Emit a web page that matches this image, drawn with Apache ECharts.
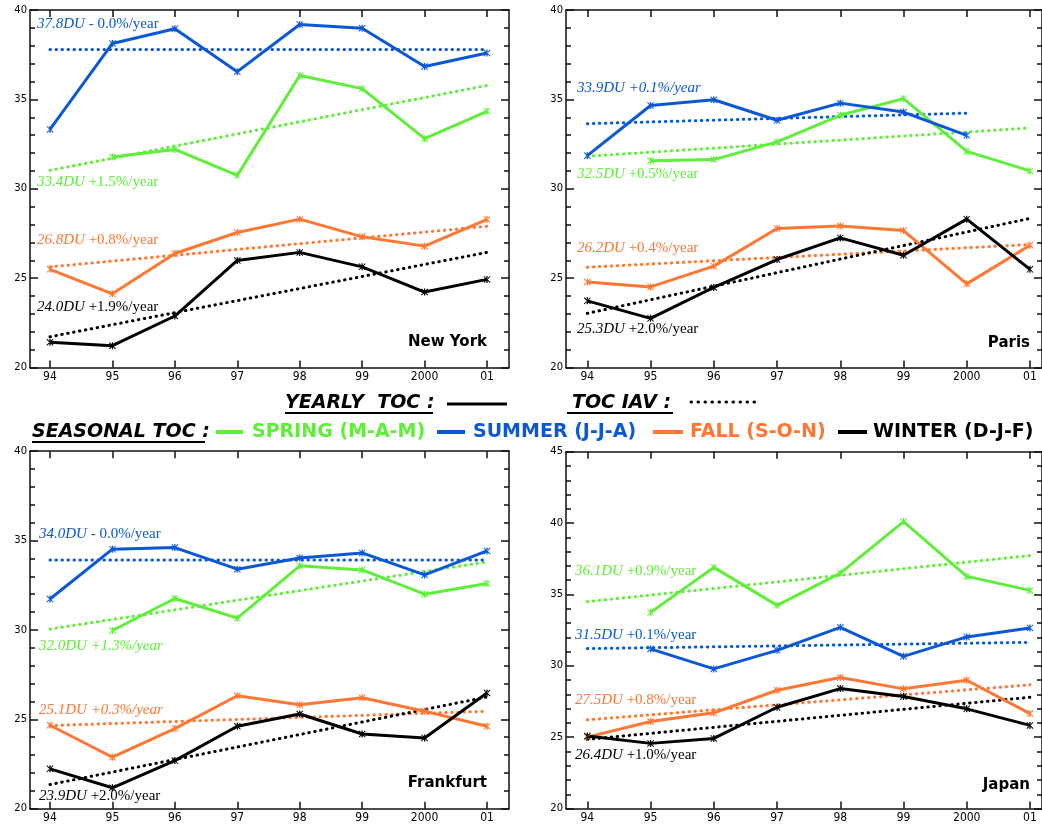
<!DOCTYPE html>
<head>
    <meta charset="utf-8">
    <title>TOC seasonal trends</title>
    <script src="https://cdn.jsdelivr.net/npm/echarts@6/dist/echarts.min.js"></script>
    <style>
        html, body { margin: 0; padding: 0; background: #fff; }
    </style>
</head>
<body>
    <div id="main" style="width:1042px;height:824px"></div>
    <script type="text/javascript">
    // year labels on the x axis
    var years = ['94', '95', '96', '97', '98', '99', '2000', '01'];

    // New York
    var nySpring = [null, 31.78, 32.2, 30.75, 36.34, 35.6, 32.8, 34.33];
    var nySummer = [33.32, 38.13, 38.95, 36.55, 39.19, 38.98, 36.84, 37.59];
    var nyFall   = [25.49, 24.12, 26.38, 27.55, 28.3, 27.31, 26.79, 28.28];
    var nyWinter = [21.41, 21.22, 22.88, 25.99, 26.44, 25.63, 24.22, 24.93];
    var nySpringTrend = [31.03, null, null, null, null, null, null, 35.78];
    var nySummerTrend = [37.79, null, null, null, null, null, null, 37.79];
    var nyFallTrend   = [25.63, null, null, null, null, null, null, 27.9];
    var nyWinterTrend = [21.72, null, null, null, null, null, null, 26.44];

    // Paris
    var parisSpring = [null, 31.57, 31.63, 32.62, 34.11, 35.04, 32.09, 31.0];
    var parisSummer = [31.85, 34.66, 34.98, 33.83, 34.79, 34.29, 32.99, null];
    var parisFall   = [24.78, 24.51, 25.67, 27.78, 27.91, 27.66, 24.68, 26.84];
    var parisWinter = [23.73, 22.75, 24.48, 26.04, 27.25, 26.28, 28.3, 25.49];
    var parisSpringTrend = [31.82, null, null, null, null, null, null, 33.4];
    var parisSummerTrend = [33.64, null, null, null, null, null, 34.23, null];
    var parisFallTrend   = [25.61, null, null, null, null, null, null, 26.88];
    var parisWinterTrend = [23.03, null, null, null, null, null, null, 28.34];

    // Frankfurt
    var frSpring = [null, 29.97, 31.76, 30.66, 33.59, 33.36, 32.0, 32.6];
    var frSummer = [31.73, 34.52, 34.61, 33.4, 34.02, 34.31, 33.08, 34.42];
    var frFall   = [24.67, 22.88, 24.48, 26.32, 25.82, 26.21, 25.45, 24.61];
    var frWinter = [22.23, 21.17, 22.69, 24.61, 25.3, 24.18, 23.96, 26.47];
    var frSpringTrend = [30.05, null, null, null, null, null, null, 33.81];
    var frSummerTrend = [33.92, null, null, null, null, null, null, 33.92];
    var frFallTrend   = [24.65, null, null, null, null, null, null, 25.45];
    var frWinterTrend = [21.35, null, null, null, null, null, null, 26.25];

    // Japan
    var jpSpring = [null, 33.75, 36.9, 34.24, 36.5, 40.11, 36.27, 35.29];
    var jpSummer = [null, 31.19, 29.79, 31.09, 32.7, 30.67, 32.03, 32.66];
    var jpFall   = [25.01, 26.1, 26.71, 28.29, 29.18, 28.39, 28.99, 26.66];
    var jpWinter = [25.08, 24.57, 24.92, 27.1, 28.41, 27.85, 26.99, 25.83];
    var jpSpringTrend = [34.5, null, null, null, null, null, null, 37.73];
    var jpSummerTrend = [31.21, null, null, null, null, null, null, 31.65];
    var jpFallTrend   = [26.22, null, null, null, null, null, null, 28.67];
    var jpWinterTrend = [24.85, null, null, null, null, null, null, 27.8];

    var GREEN = '#5fee3a', BLUE = '#0a58d6', ORANGE = '#ff7733', BLACK = '#000000';
    var STAR = 'path://M-1,-0.8L-0.8,-1L1,0.8L0.8,1Z M1,-0.8L0.8,-1L-1,0.8L-0.8,1Z M-0.18,-1L0.18,-1L0.18,1L-0.18,1Z';

    var panels = [
        { name: 'New York', grid: { left: 30, top: 10, width: 479, height: 357.5 }, xmin: -0.32, xmax: 7.352, ymax: 40,
          lines: [nySpring, nySummer, nyFall, nyWinter],
          trends: [nySpringTrend, nySummerTrend, nyFallTrend, nyWinterTrend] },
        { name: 'Paris', grid: { left: 566, top: 10, width: 476, height: 357.5 }, xmin: -0.337, xmax: 7.19, ymax: 40,
          lines: [parisSpring, parisSummer, parisFall, parisWinter],
          trends: [parisSpringTrend, parisSummerTrend, parisFallTrend, parisWinterTrend] },
        { name: 'Frankfurt', grid: { left: 30, top: 451.2, width: 479, height: 357.5 }, xmin: -0.32, xmax: 7.352, ymax: 40,
          lines: [frSpring, frSummer, frFall, frWinter],
          trends: [frSpringTrend, frSummerTrend, frFallTrend, frWinterTrend] },
        { name: 'Japan', grid: { left: 566, top: 451.8, width: 476, height: 356.8 }, xmin: -0.337, xmax: 7.19, ymax: 45,
          lines: [jpSpring, jpSummer, jpFall, jpWinter],
          trends: [jpSpringTrend, jpSummerTrend, jpFallTrend, jpWinterTrend] }
    ];
    var colors = [GREEN, BLUE, ORANGE, BLACK];
    var tickIdx = [0, 1, 2, 3, 4, 5, 6, 7];
    var frame = { color: '#111', width: 1.5 };

    var grids = [], xAxes = [], yAxes = [], series = [];
    panels.forEach(function (p, g) {
        grids.push(p.grid);
        ['bottom', 'top'].forEach(function (pos) {
            xAxes.push({
                gridIndex: g, type: 'value', position: pos, min: p.xmin, max: p.xmax,
                axisLine: { show: true, onZero: false, lineStyle: frame },
                axisTick: { show: true, inside: true, length: 7, customValues: tickIdx, lineStyle: frame },
                axisLabel: {
                    show: pos === 'bottom', customValues: tickIdx, margin: 3,
                    formatter: function (v) { return years[v]; },
                    fontFamily: '"Liberation Sans Narrow", "DejaVu Sans Condensed"', fontSize: 12, color: '#000'
                },
                splitLine: { show: false }
            });
        });
        ['left', 'right'].forEach(function (pos) {
            yAxes.push({
                gridIndex: g, type: 'value', position: pos, min: 20, max: p.ymax, interval: 5,
                axisLine: { show: true, onZero: false, lineStyle: frame },
                axisTick: { show: true, inside: true, length: 8, lineStyle: frame },
                minorTick: { show: true, splitNumber: 5, length: 5, lineStyle: frame },
                axisLabel: { show: pos === 'left', margin: 3, fontFamily: 'DejaVu Sans', fontSize: 10, color: '#000' },
                splitLine: { show: false }
            });
        });
        p.trends.forEach(function (t, k) {
            series.push({
                type: 'line', xAxisIndex: g * 2, yAxisIndex: g * 2, connectNulls: true,
                data: t.map(function (v, i) { return [i, v]; }).filter(function (d) { return d[1] != null; }),
                showSymbol: false, symbol: 'none',
                lineStyle: { color: colors[k], width: 3, type: [0.5, 5.5], cap: 'round' },
                z: 2
            });
        });
        p.lines.forEach(function (vals, k) {
            series.push({
                type: 'line', xAxisIndex: g * 2, yAxisIndex: g * 2,
                data: vals.map(function (v, i) { return [i, v]; }).filter(function (d) { return d[1] != null; }),
                symbol: STAR, symbolSize: 7,
                itemStyle: { color: colors[k] },
                lineStyle: { color: colors[k], width: 3 },
                z: 3 + (k === 1 ? 1 : 0)
            });
        });
    });

    // trend annotations: [x, y, color, italic part, rest, rest italic?]
    var notes = [
        [37, 24, BLUE, '37.8DU', ' - 0.0%/year', false],
        [37, 182, GREEN, '33.4DU', ' +1.5%/year', false],
        [37, 240, ORANGE, '26.8DU', ' +0.8%/year', false],
        [37, 307, BLACK, '24.0DU', ' +1.9%/year', false],
        [577, 88, BLUE, '33.9DU', ' +0.1%/year', true],
        [577, 174, GREEN, '32.5DU', ' +0.5%/year', false],
        [577, 248, ORANGE, '26.2DU', ' +0.4%/year', false],
        [577, 329, BLACK, '25.3DU', ' +2.0%/year', false],
        [39, 534, BLUE, '34.0DU', ' - 0.0%/year', false],
        [39, 646, GREEN, '32.0DU', ' +1.3%/year', true],
        [39, 710, ORANGE, '25.1DU', ' +0.3%/year', true],
        [39, 796, BLACK, '23.9DU', ' +2.0%/year', false],
        [575, 571, GREEN, '36.1DU', ' +0.9%/year', false],
        [575, 635, BLUE, '31.5DU', ' +0.1%/year', false],
        [575, 700, ORANGE, '27.5DU', ' +0.8%/year', false],
        [575, 755, BLACK, '26.4DU', ' +1.0%/year', false]
    ];
    var graphics = notes.map(function (n) {
        return {
            type: 'text', x: n[0], y: n[1], z: 10,
            style: {
                text: '{a|' + n[3] + '}{b|' + n[4] + '}',
                verticalAlign: 'middle', align: 'left',
                rich: {
                    a: { fontFamily: 'Liberation Serif', fontSize: 15, fontStyle: 'italic', fill: n[2], color: n[2] },
                    b: { fontFamily: 'Liberation Serif', fontSize: 15, fontStyle: n[5] ? 'italic' : 'normal', fill: n[2], color: n[2] }
                }
            }
        };
    });

    // panel names
    [[487, 342, 'New York'], [1030, 343, 'Paris'], [487, 783, 'Frankfurt'], [1030, 785, 'Japan']].forEach(function (t) {
        graphics.push({
            type: 'text', x: t[0], y: t[1], z: 10,
            style: { text: t[2], align: 'right', verticalAlign: 'middle', fontFamily: 'DejaVu Sans', fontWeight: 'bold', fontSize: 15, fill: '#000' }
        });
    });

    // legend block between the panels
    function legText(x, y, txt, color, italic) {
        graphics.push({
            type: 'text', x: x, y: y, z: 10,
            style: {
                text: txt, align: 'left', verticalAlign: 'middle', fill: color,
                fontFamily: 'DejaVu Sans', fontWeight: 'bold', fontSize: 19,
                fontStyle: italic ? 'italic' : 'normal'
            }
        });
    }
    function legLine(x1, x2, y, color, w, dash) {
        graphics.push({
            type: 'line', z: 10, shape: { x1: x1, y1: y, x2: x2, y2: y },
            style: { stroke: color, lineWidth: w, lineDash: dash || null, lineCap: dash ? 'round' : 'butt' }
        });
    }
    legText(285, 403, 'YEARLY  TOC :', BLACK, true);
    legLine(285, 433, 413, BLACK, 2);
    legLine(447, 507, 404, BLACK, 3);
    legText(572, 403, 'TOC IAV :', BLACK, true);
    legLine(567, 673, 413, BLACK, 2);
    legLine(691, 758, 402, BLACK, 3, [0.5, 6.5]);

    legText(32, 432, 'SEASONAL TOC :', BLACK, true);
    legLine(32, 205, 442, BLACK, 2);
    legLine(216, 243, 432, GREEN, 4);
    legText(252, 432, 'SPRING (M-A-M)', GREEN, false);
    legLine(437, 465, 432, BLUE, 4);
    legText(473, 432, 'SUMMER (J-J-A)', BLUE, false);
    legLine(653, 683, 432, ORANGE, 4);
    legText(690, 432, 'FALL (S-O-N)', ORANGE, false);
    legLine(838, 867, 432, BLACK, 4);
    legText(873, 432, 'WINTER (D-J-F)', BLACK, false);

    var myChart = echarts.init(document.getElementById('main'));
    myChart.setOption({
        animation: false,
        backgroundColor: '#fff',
        grid: grids,
        xAxis: xAxes,
        yAxis: yAxes,
        series: series,
        graphic: graphics
    });
    </script>
</body>
